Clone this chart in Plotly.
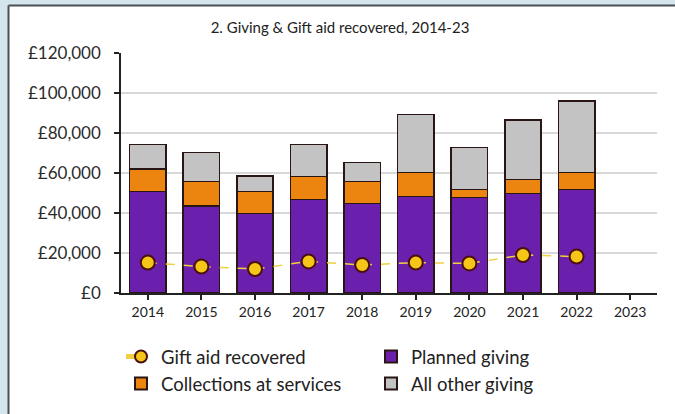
import plotly.graph_objects as go

years = ["2014", "2015", "2016", "2017", "2018", "2019", "2020", "2021", "2022", "2023"]
planned_giving = [50700, 43500, 39800, 46800, 44800, 48200, 47800, 49800, 51800, None]
collections = [11300, 12200, 10900, 11400, 10900, 12000, 4000, 7000, 8400, None]
other_giving = [12300, 14500, 7800, 16100, 9600, 29100, 20900, 29700, 35800, None]
gift_aid = [15200, 13200, 12000, 15800, 14000, 15200, 14800, 19000, 18200, None]
y_ticks = [0, 20000, 40000, 60000, 80000, 100000, 120000]
y_tick_labels = ["£0", "£20,000", "£40,000", "£60,000", "£80,000", "£100,000", "£120,000"]

W, H = 675, 414
L, R, T, B = 121, 18, 53, 121
pw, ph = W - L - R, H - T - B

def px(x):
    return (x - L) / pw

def py(y):
    return (H - B - y) / ph

outline = dict(color="#2a1515", width=1.5)
FONT = "Lato"

fig = go.Figure()
fig.add_trace(go.Bar(x=years, y=planned_giving, name="Planned giving",
                     marker=dict(color="#6a20ad", line=outline), width=0.68,
                     legendrank=2))
fig.add_trace(go.Bar(x=years, y=collections, name="Collections at services",
                     marker=dict(color="#ec8410", line=outline), width=0.68,
                     legendrank=3))
fig.add_trace(go.Bar(x=years, y=other_giving, name="All other giving",
                     marker=dict(color="#c3c3c3", line=outline), width=0.68,
                     legendrank=4))
fig.add_trace(go.Scatter(x=years, y=gift_aid, name="Gift aid recovered",
                         mode="lines+markers",
                         line=dict(color="#f0d040", width=1.5, dash="dash"),
                         marker=dict(size=14, color="#f5c518",
                                     line=dict(color="#4a1010", width=2)),
                         legendrank=1))

blue = "#d5e5ee"
shapes = [
    dict(type="rect", xref="paper", yref="paper", x0=px(0), x1=px(8), y0=py(H), y1=py(0),
         fillcolor=blue, line=dict(width=0), layer="below"),
    dict(type="rect", xref="paper", yref="paper", x0=px(0), x1=px(W), y0=py(5), y1=py(0),
         fillcolor=blue, line=dict(width=0), layer="below"),
    dict(type="line", xref="paper", yref="paper", x0=px(8.5), x1=px(8.5), y0=py(H), y1=py(5.5),
         line=dict(color="#4a4f55", width=2)),
    dict(type="line", xref="paper", yref="paper", x0=px(8.5), x1=px(W), y0=py(5.5), y1=py(5.5),
         line=dict(color="#4a4f55", width=2)),
]

fig.update_layout(
    width=W, height=H,
    margin=dict(l=L, r=R, t=T, b=B, autoexpand=False),
    barmode="stack",
    paper_bgcolor="white",
    plot_bgcolor="white",
    shapes=shapes,
    font=dict(family=FONT, color="#2b2b2b"),
    title=dict(text="2. Giving & Gift aid recovered, 2014-23", xref="container", x=340 / W,
               xanchor="center", yref="container", y=1 - 28 / H, yanchor="middle",
               font=dict(size=15, family=FONT, color="#222")),
    xaxis=dict(type="category", categoryorder="array", categoryarray=years,
               range=[-0.5, 9.5], showgrid=False, showline=True, linecolor="#222", linewidth=1.5,
               ticks="outside", ticklen=5, tickcolor="#222", tickwidth=1.5, automargin=False,
               tickfont=dict(size=14, family=FONT, color="#222")),
    yaxis=dict(range=[0, 120000], tickvals=y_ticks, ticktext=y_tick_labels,
               showgrid=True, gridcolor="#d8d8d8", gridwidth=1.5,
               showline=True, linecolor="#222", linewidth=1.5,
               ticks="outside", ticklen=5, tickcolor="#222", tickwidth=1.5,
               ticklabelstandoff=10, automargin=False,
               tickfont=dict(size=17, family=FONT, color="#2b2b2b"), zeroline=False),
    legend=dict(orientation="h", x=px(121), xanchor="left", y=py(338), yanchor="top",
                entrywidth=205, entrywidthmode="pixels", traceorder="normal",
                font=dict(size=18.5, family=FONT, color="#222"), bgcolor="rgba(0,0,0,0)",
                itemsizing="constant", tracegroupgap=0),
    showlegend=True,
)

fig.write_html("out.html", config={"displayModeBar": False},
               post_script="document.body.style.margin='0px';document.body.style.overflow='hidden';document.body.style.background='#ffffff';")
